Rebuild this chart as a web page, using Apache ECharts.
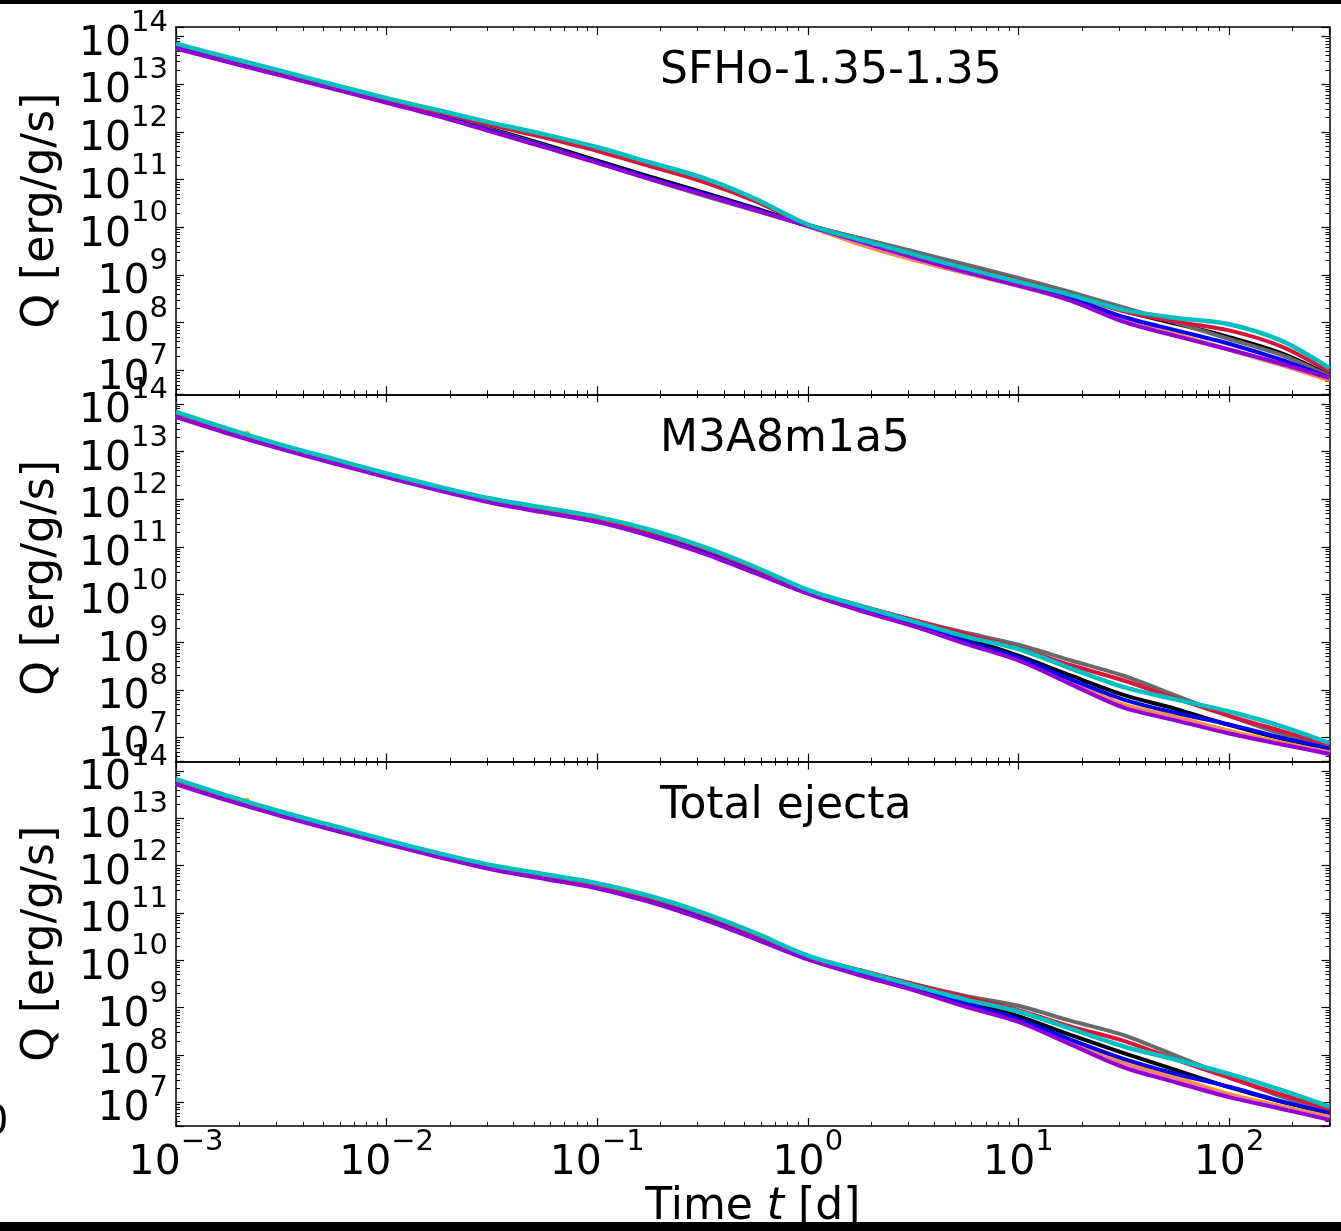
<!DOCTYPE html>
<html>
<head>
<meta charset="utf-8">
<title>Heating rate Q(t)</title>
<script src="https://cdn.jsdelivr.net/npm/echarts@6/dist/echarts.min.js"></script>
<style>
  html, body { margin: 0; padding: 0; background: #ffffff; }
  #chart { width: 1341px; height: 1231px; }
</style>
</head>
<body>
<div id="chart"></div>
<script>
// Time grid in days (quarter-decade steps)
const times = [0.001, 0.00178, 0.00316, 0.00562, 0.01, 0.0178, 0.0316, 0.0562,
               0.1, 0.178, 0.316, 0.562, 1, 1.78, 3.16, 5.62, 10, 17.8, 31.6, 56.2,
               100, 178, 300];

// log10 of the heating rate Q [erg/g/s], one array per model and curve
// --- SFHo-1.35-1.35
const sfhoBlack  = [13.84, 13.54, 13.25, 12.96, 12.67, 12.38, 12.06, 11.74, 11.40, 11.06, 10.74, 10.40, 10.05, 9.76, 9.46, 9.18, 8.91, 8.60, 8.25, 7.98, 7.70, 7.36, 6.90];
const sfhoGray   = [13.83, 13.53, 13.24, 12.95, 12.66, 12.36, 12.04, 11.71, 11.37, 11.01, 10.67, 10.35, 10.04, 9.77, 9.50, 9.22, 8.94, 8.64, 8.32, 8.00, 7.66, 7.32, 6.88];
const sfhoOrange = [13.76, 13.47, 13.19, 12.91, 12.62, 12.33, 12.01, 11.69, 11.36, 11.02, 10.70, 10.37, 10.02, 9.64, 9.32, 9.04, 8.78, 8.48, 8.08, 7.76, 7.44, 7.12, 6.79];
const sfhoSalmon = [13.76, 13.47, 13.19, 12.91, 12.62, 12.33, 12.01, 11.69, 11.36, 11.02, 10.70, 10.37, 10.02, 9.65, 9.33, 9.04, 8.77, 8.46, 8.05, 7.74, 7.43, 7.11, 6.81];
const sfhoBlue   = [13.78, 13.49, 13.21, 12.92, 12.63, 12.34, 12.02, 11.70, 11.37, 11.03, 10.71, 10.38, 10.03, 9.72, 9.40, 9.10, 8.83, 8.52, 8.12, 7.84, 7.56, 7.22, 6.85];
const sfhoRed    = [13.84, 13.55, 13.26, 12.97, 12.68, 12.41, 12.14, 11.88, 11.60, 11.28, 10.96, 10.55, 10.05, 9.74, 9.44, 9.15, 8.88, 8.58, 8.24, 8.02, 7.84, 7.50, 6.97];
const sfhoPurple = [13.75, 13.46, 13.18, 12.90, 12.61, 12.32, 12.00, 11.68, 11.35, 11.01, 10.69, 10.36, 10.03, 9.70, 9.37, 9.06, 8.78, 8.46, 8.02, 7.72, 7.44, 7.14, 6.84];
const sfhoCyan   = [13.85, 13.56, 13.28, 12.99, 12.71, 12.45, 12.19, 11.95, 11.68, 11.36, 11.04, 10.60, 10.06, 9.74, 9.44, 9.14, 8.86, 8.58, 8.27, 8.10, 7.97, 7.62, 7.05];

// --- M3A8m1a5
const m3Black  = [13.80, 13.44, 13.11, 12.81, 12.51, 12.23, 11.97, 11.78, 11.58, 11.30, 10.95, 10.52, 10.07, 9.72, 9.42, 9.08, 8.72, 8.30, 7.90, 7.60, 7.27, 6.98, 6.76];
const m3Gray   = [13.79, 13.43, 13.10, 12.80, 12.50, 12.22, 11.96, 11.77, 11.57, 11.29, 10.95, 10.53, 10.08, 9.76, 9.47, 9.20, 8.95, 8.62, 8.30, 7.88, 7.46, 7.08, 6.78];
const m3Orange = [13.74, 13.39, 13.07, 12.77, 12.48, 12.20, 11.94, 11.74, 11.54, 11.25, 10.89, 10.47, 10.03, 9.67, 9.35, 8.99, 8.64, 8.16, 7.70, 7.44, 7.15, 6.90, 6.70];
const m3Salmon = [13.74, 13.39, 13.07, 12.77, 12.48, 12.20, 11.94, 11.74, 11.54, 11.25, 10.89, 10.47, 10.03, 9.67, 9.35, 8.99, 8.63, 8.14, 7.67, 7.41, 7.12, 6.88, 6.68];
const m3Blue   = [13.78, 13.42, 13.09, 12.79, 12.49, 12.21, 11.95, 11.76, 11.56, 11.27, 10.91, 10.48, 10.04, 9.69, 9.38, 9.02, 8.68, 8.22, 7.80, 7.52, 7.28, 7.00, 6.78];
const m3Red    = [13.80, 13.45, 13.12, 12.82, 12.52, 12.24, 11.99, 11.79, 11.59, 11.32, 10.98, 10.55, 10.09, 9.77, 9.47, 9.17, 8.88, 8.52, 8.20, 7.82, 7.46, 7.14, 6.85];
const m3Purple = [13.72, 13.37, 13.05, 12.75, 12.46, 12.18, 11.92, 11.72, 11.52, 11.23, 10.87, 10.45, 10.02, 9.66, 9.34, 8.97, 8.62, 8.12, 7.63, 7.36, 7.09, 6.86, 6.66];
const m3Cyan   = [13.83, 13.47, 13.14, 12.84, 12.54, 12.26, 12.01, 11.82, 11.63, 11.36, 11.01, 10.58, 10.10, 9.76, 9.44, 9.12, 8.86, 8.45, 8.06, 7.80, 7.55, 7.24, 6.89];

// --- Total ejecta
const totBlack  = [13.80, 13.44, 13.11, 12.81, 12.51, 12.23, 11.97, 11.78, 11.58, 11.30, 10.95, 10.52, 10.07, 9.74, 9.45, 9.14, 8.82, 8.42, 8.04, 7.68, 7.32, 7.01, 6.77];
const totGray   = [13.79, 13.43, 13.10, 12.80, 12.50, 12.22, 11.96, 11.77, 11.57, 11.29, 10.95, 10.53, 10.08, 9.78, 9.50, 9.25, 9.04, 8.72, 8.42, 7.98, 7.54, 7.12, 6.80];
const totOrange = [13.74, 13.39, 13.07, 12.77, 12.48, 12.20, 11.94, 11.74, 11.54, 11.25, 10.89, 10.47, 10.03, 9.69, 9.38, 9.04, 8.72, 8.26, 7.84, 7.52, 7.18, 6.92, 6.70];
const totSalmon = [13.74, 13.39, 13.07, 12.77, 12.48, 12.20, 11.94, 11.74, 11.54, 11.25, 10.89, 10.47, 10.03, 9.69, 9.38, 9.04, 8.71, 8.24, 7.81, 7.49, 7.15, 6.90, 6.68];
const totBlue   = [13.78, 13.42, 13.09, 12.79, 12.49, 12.21, 11.95, 11.76, 11.56, 11.27, 10.91, 10.48, 10.04, 9.71, 9.41, 9.08, 8.76, 8.32, 7.92, 7.60, 7.33, 7.02, 6.78];
const totRed    = [13.80, 13.45, 13.12, 12.82, 12.52, 12.24, 11.99, 11.79, 11.59, 11.32, 10.98, 10.55, 10.09, 9.79, 9.50, 9.22, 8.95, 8.60, 8.30, 7.90, 7.52, 7.16, 6.86];
const totPurple = [13.72, 13.37, 13.05, 12.75, 12.46, 12.18, 11.92, 11.72, 11.52, 11.23, 10.87, 10.45, 10.02, 9.68, 9.37, 9.02, 8.70, 8.22, 7.74, 7.42, 7.11, 6.86, 6.63];
const totCyan   = [13.83, 13.47, 13.14, 12.84, 12.54, 12.26, 12.01, 11.82, 11.63, 11.36, 11.01, 10.58, 10.10, 9.78, 9.47, 9.17, 8.92, 8.55, 8.18, 7.90, 7.60, 7.26, 6.91];

// Short glitch in the orange curve near 2 ms (log10 Q)
const blipTimes     = [0.00205, 0.00217, 0.00228];
const m3OrangeBlip  = [13.31, 13.40, 13.25];
const totOrangeBlip = [13.31, 13.40, 13.25];

const panelTitles = ['SFHo-1.35-1.35', 'M3A8m1a5', 'Total ejecta'];

const curveColors = {
  black: '#000000', gray: '#696969', orange: '#FFA500', salmon: '#F08080',
  blue: '#0000FF', red: '#DC143C', purple: '#9400D3', cyan: '#00BFBF'
};
const drawOrder = ['black', 'gray', 'orange', 'salmon', 'blue', 'red', 'purple', 'cyan'];

const panels = [
  { black: sfhoBlack, gray: sfhoGray, orange: sfhoOrange, salmon: sfhoSalmon,
    blue: sfhoBlue, red: sfhoRed, purple: sfhoPurple, cyan: sfhoCyan, blip: null },
  { black: m3Black, gray: m3Gray, orange: m3Orange, salmon: m3Salmon,
    blue: m3Blue, red: m3Red, purple: m3Purple, cyan: m3Cyan, blip: m3OrangeBlip },
  { black: totBlack, gray: totGray, orange: totOrange, salmon: totSalmon,
    blue: totBlue, red: totRed, purple: totPurple, cyan: totCyan, blip: totOrangeBlip }
];

const FONT = 'DejaVu Sans';
const PLOT_LEFT = 176, PLOT_TOP = 27, PLOT_W = 1153.5, PLOT_H = 367.3;
const X_MIN = 0.001, X_MAX = 300;
const Y_MIN = Math.pow(10, 6.5), Y_MAX = Math.pow(10, 14.2);

function toPairs(logs, ts) {
  return ts.map((t, i) => [t, Math.pow(10, logs[i])]);
}

// "10^n" tick labels, only on whole decades
function decadeLabel(v) {
  const e = Math.log10(v);
  const r = Math.round(e);
  if (Math.abs(e - r) > 1e-6) return '';
  const exp = r < 0 ? '\u2212' + (-r) : String(r);
  return '{b|10}{e|' + exp + '}';
}
const powRich = {
  b: { fontFamily: FONT, fontSize: 41, lineHeight: 56, verticalAlign: 'bottom', color: '#000' },
  e: { fontFamily: FONT, fontSize: 29, lineHeight: 29, verticalAlign: 'top', color: '#000' }
};

const frameLine = { show: true, onZero: false, lineStyle: { color: '#000', width: 1.5 } };
const majorTick = { show: true, inside: true, length: 8, lineStyle: { color: '#000', width: 1.2 } };
const minorTick = { show: true, splitNumber: 9, length: 4, lineStyle: { color: '#000', width: 1 } };

const grids = [], xAxes = [], yAxes = [], series = [], titles = [];

panels.forEach((p, i) => {
  const top = PLOT_TOP + i * PLOT_H;
  grids.push({ left: PLOT_LEFT, top: top, width: PLOT_W, height: PLOT_H, containLabel: false });

  const isBottom = i === panels.length - 1;
  // bottom x axis (labels only under the last panel)
  xAxes.push({
    type: 'log', logBase: 10, gridIndex: i, position: 'bottom', min: X_MIN, max: X_MAX,
    axisLine: frameLine, axisTick: majorTick, minorTick: minorTick, splitLine: { show: false },
    axisLabel: isBottom ? { show: true, margin: 2, formatter: decadeLabel, rich: powRich, hideOverlap: false }
                        : { show: false },
    name: isBottom ? '{n|Time }{i|t}{n| [d]}' : '',
    nameLocation: 'middle', nameGap: 60,
    nameTextStyle: {
      rich: {
        n: { fontFamily: FONT, fontSize: 44, color: '#000', lineHeight: 44 },
        i: { fontFamily: FONT, fontSize: 44, fontStyle: 'italic', color: '#000', lineHeight: 44 }
      }
    }
  });
  // top x axis (frame + ticks)
  xAxes.push({
    type: 'log', logBase: 10, gridIndex: i, position: 'top', min: X_MIN, max: X_MAX,
    axisLine: frameLine, axisTick: majorTick, minorTick: minorTick, splitLine: { show: false },
    axisLabel: { show: false }
  });
  // left y axis
  yAxes.push({
    type: 'log', logBase: 10, gridIndex: i, position: 'left', min: Y_MIN, max: Y_MAX,
    axisLine: frameLine, axisTick: majorTick, minorTick: minorTick, splitLine: { show: false },
    axisLabel: { show: true, margin: 8, formatter: decadeLabel, rich: powRich, hideOverlap: false },
    name: 'Q [erg/g/s]', nameLocation: 'middle', nameGap: 112,
    nameTextStyle: { fontFamily: FONT, fontSize: 44, color: '#000' }
  });
  // right y axis (frame + ticks)
  yAxes.push({
    type: 'log', logBase: 10, gridIndex: i, position: 'right', min: Y_MIN, max: Y_MAX,
    axisLine: frameLine, axisTick: majorTick, minorTick: minorTick, splitLine: { show: false },
    axisLabel: { show: false }
  });

  drawOrder.forEach(key => {
    let data = toPairs(p[key], times);
    if (key === 'orange' && p.blip) {
      data = data.concat(toPairs(p.blip, blipTimes)).sort((a, b) => a[0] - b[0]);
    }
    series.push({
      type: 'line', name: panelTitles[i] + ' ' + key,
      xAxisIndex: 2 * i, yAxisIndex: 2 * i,
      data: data, showSymbol: false, smooth: 0.3,
      lineStyle: { color: curveColors[key], width: key === 'cyan' ? 4.5 : 4 },
      itemStyle: { color: curveColors[key] },
      silent: true
    });
  });

  titles.push({
    text: panelTitles[i], left: 660, top: top + 23, padding: 0,
    textStyle: { fontFamily: FONT, fontSize: 44, fontWeight: 'normal', color: '#000', lineHeight: 44 }
  });
});

const chart = echarts.init(document.getElementById('chart'), null, { renderer: 'canvas' });
chart.setOption({
  animation: false,
  backgroundColor: '#ffffff',
  textStyle: { fontFamily: FONT },
  title: titles,
  grid: grids,
  xAxis: xAxes,
  yAxis: yAxes,
  series: series,
  graphic: [
    { type: 'rect', x: 0, y: 0, shape: { width: 1341, height: 4 }, style: { fill: '#000' }, silent: true },
    { type: 'rect', x: 0, y: 1222, shape: { width: 1341, height: 9 }, style: { fill: '#000' }, silent: true },
    // right edge of a glyph cut off at the page border
    { type: 'text', x: -17, y: 1104, style: { text: '0', fontFamily: FONT, fontSize: 40, fill: '#000' }, silent: true }
  ]
});
</script>
</body>
</html>
